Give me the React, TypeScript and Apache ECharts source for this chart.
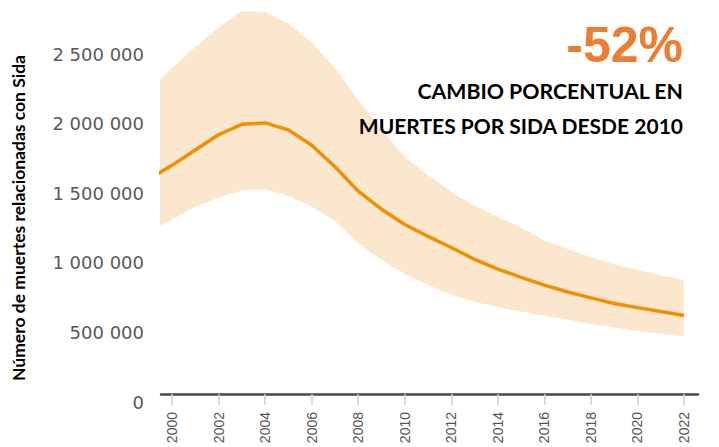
import React, { useEffect, useRef } from "react";
import * as echarts from "echarts";

const years = [1999, 2000, 2001, 2002, 2003, 2004, 2005, 2006, 2007, 2008, 2009, 2010, 2011, 2012, 2013, 2014, 2015, 2016, 2017, 2018, 2019, 2020, 2021, 2022];
const deaths = [1600000, 1700000, 1810000, 1920000, 1995000, 2005000, 1955000, 1845000, 1690000, 1515000, 1385000, 1275000, 1190000, 1110000, 1025000, 955000, 895000, 840000, 790000, 748000, 708000, 678000, 650000, 622000];
const upperBound = [2240000, 2400000, 2550000, 2690000, 2810000, 2800000, 2720000, 2585000, 2400000, 2170000, 1960000, 1760000, 1630000, 1510000, 1410000, 1330000, 1255000, 1160000, 1100000, 1040000, 990000, 950000, 910000, 875000];
const lowerBound = [1230000, 1310000, 1400000, 1470000, 1520000, 1527000, 1480000, 1405000, 1300000, 1140000, 1020000, 920000, 840000, 770000, 720000, 680000, 650000, 620000, 590000, 560000, 535000, 510000, 490000, 470000];
const xTicks = [2000, 2002, 2004, 2006, 2008, 2010, 2012, 2014, 2016, 2018, 2020, 2022];
const yTicks = [0, 500000, 1000000, 1500000, 2000000, 2500000];

const yTitle = "Número de muertes relacionadas con Sida";
const bigText = "-52%";
const subText1 = "CAMBIO PORCENTUAL EN";
const subText2 = "MUERTES POR SIDA DESDE 2010";

const fmt = (v: number) => String(v).replace(/\B(?=(\d{3})+(?!\d))/g, " ");

export default function App() {
  const ref = useRef<HTMLDivElement>(null);
  useEffect(() => {
    if (!ref.current) return;
    const chart = echarts.init(ref.current, null, { renderer: "svg" });
    const upperData = years.map((y, i) => [y, upperBound[i]]);
    const lowerData = years.map((y, i) => [y, lowerBound[i]]);
    const lineData = years.map((y, i) => [y, deaths[i]]);
    chart.setOption({
      animation: false,
      grid: { left: 161, right: 21, top: 0, bottom: 45, containLabel: false },
      xAxis: {
        type: "value",
        min: 1999.527,
        max: 2022.6,
        offset: -8,
        z: 10,
        axisLine: { onZero: false, lineStyle: { color: "#4a4a4a", width: 2.5 } },
        axisTick: { show: true, customValues: xTicks, length: 11, lineStyle: { color: "#cfcfcf", width: 1.5 } },
        axisLabel: {
          customValues: xTicks,
          rotate: 90,
          margin: 18,
          fontSize: 14,
          color: "#555",
          fontFamily: "'Liberation Sans', Arial, sans-serif",
          formatter: (v: number) => String(Math.round(v)),
        },
        splitLine: { show: false },
      },
      yAxis: {
        type: "value",
        min: 0,
        max: 2888000,
        axisLine: { show: false },
        axisTick: { show: false },
        splitLine: { show: false },
        axisLabel: {
          customValues: yTicks,
          margin: 17,
          fontSize: 18,
          color: "#5a5a5a",
          fontFamily: "'DejaVu Sans', Verdana, sans-serif",
          formatter: (v: number) => (yTicks.indexOf(v) >= 0 ? fmt(v) : ""),
        },
      },
      series: [
        {
          type: "line",
          data: upperData,
          symbol: "none",
          lineStyle: { opacity: 0 },
          areaStyle: { color: "#FBE6CE", opacity: 1 },
          silent: true,
        },
        {
          type: "line",
          data: lowerData,
          symbol: "none",
          lineStyle: { opacity: 0 },
          areaStyle: { color: "#ffffff", opacity: 1 },
          silent: true,
        },
        {
          type: "line",
          data: lineData,
          symbol: "none",
          lineStyle: { color: "#F09000", width: 3.5 },
          silent: true,
        },
      ],
      graphic: {
        elements: [
          {
            type: "text",
            z: 100,
            x: 18,
            y: 218,
            rotation: Math.PI / 2,
            style: {
              text: yTitle,
              fontSize: 17.5,
              fontWeight: "bold",
              fontFamily: "Lato, 'Open Sans', sans-serif",
              fill: "#000",
              align: "center",
              verticalAlign: "middle",
            },
          },
          {
            type: "text",
            z: 100,
            x: 683,
            y: 45,
            style: {
              text: bigText,
              fontSize: 50,
              fontWeight: "bold",
              fontFamily: "'Liberation Sans', Arial, sans-serif",
              fill: "#ED7D31",
              align: "right",
              verticalAlign: "middle",
            },
          },
          {
            type: "text",
            z: 100,
            x: 683,
            y: 91,
            style: {
              text: subText1,
              fontSize: 21.3,
              fontWeight: "bold",
              fontFamily: "Lato, 'Open Sans', sans-serif",
              fill: "#000",
              align: "right",
              verticalAlign: "middle",
            },
          },
          {
            type: "text",
            z: 100,
            x: 683,
            y: 125,
            style: {
              text: subText2,
              fontSize: 21,
              fontWeight: "bold",
              fontFamily: "Lato, 'Open Sans', sans-serif",
              fill: "#000",
              align: "right",
              verticalAlign: "middle",
            },
          },
        ],
      },
    });
    return () => chart.dispose();
  }, []);
  return (
    <div
      ref={ref}
      style={{ position: "fixed", left: 0, top: 0, width: 719, height: 447, background: "#fff" }}
    />
  );
}
